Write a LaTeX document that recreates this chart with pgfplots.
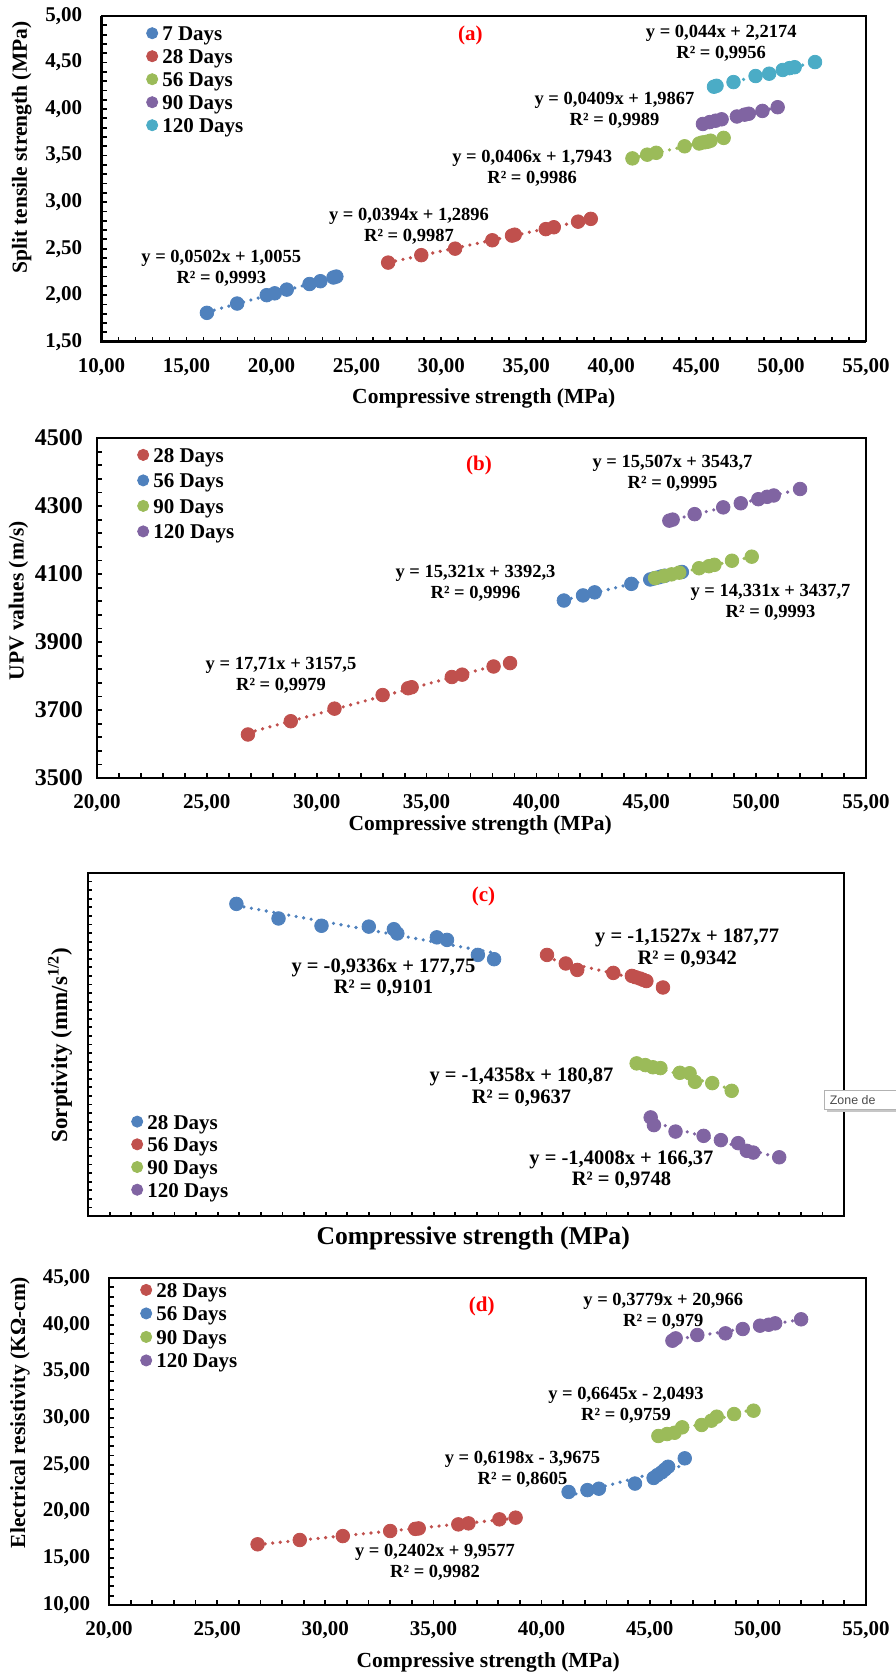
\documentclass[border=0pt]{standalone}
\usepackage{fontspec}
\setmainfont{Liberation Serif}
\newfontfamily\tipfont{Liberation Sans}
\usepackage{pgfplots}
\usepackage{pgfplotstable}
\pgfplotsset{compat=1.18}
\definecolor{cblue}{HTML}{4F81BD}
\definecolor{cred}{HTML}{C0504D}
\definecolor{cgreen}{HTML}{9BBB59}
\definecolor{cpurple}{HTML}{8064A2}
\definecolor{ccyan}{HTML}{4BACC6}

% ---------- data: panel (a) ----------
\pgfplotstableread{
x y
16.20 1.81
17.98 1.91
19.72 2.00
20.19 2.02
20.90 2.06
22.24 2.12
22.88 2.15
23.65 2.19
23.82 2.20
}\aA
\pgfplotstableread{
x y
26.87 2.35
28.82 2.43
30.81 2.50
33.00 2.59
34.16 2.64
34.32 2.65
36.15 2.71
36.62 2.73
38.05 2.79
38.80 2.82
}\aB
\pgfplotstableread{
x y
41.25 3.47
42.12 3.51
42.65 3.53
44.32 3.60
45.18 3.63
45.35 3.64
45.55 3.645
45.70 3.65
45.85 3.66
46.62 3.69
}\aC
\pgfplotstableread{
x y
45.40 3.84
45.80 3.86
46.15 3.875
46.50 3.89
47.40 3.92
47.85 3.94
48.10 3.95
48.90 3.98
49.80 4.02
}\aD
\pgfplotstableread{
x y
46.05 4.24
46.20 4.25
47.20 4.29
48.50 4.355
49.30 4.38
50.10 4.42
50.50 4.44
50.80 4.45
52.00 4.505
}\aE
% ---------- data: panel (b) ----------
\pgfplotstableread{
x y
26.87 3628
28.82 3667
30.81 3704
33.00 3744
34.16 3764
34.32 3767
36.15 3797
36.62 3804
38.05 3828
38.80 3838
}\bA
\pgfplotstableread{
x y
41.25 4022
42.12 4037
42.65 4046
44.32 4071
45.18 4084
45.35 4087
45.55 4090
45.70 4093
45.85 4095
46.62 4106
}\bB
\pgfplotstableread{
x y
45.40 4088
45.80 4094
46.15 4099
46.50 4104
47.40 4117
47.85 4123
48.10 4127
48.90 4139
49.80 4151
}\bC
\pgfplotstableread{
x y
46.05 4257
46.20 4260
47.20 4276
48.50 4296
49.30 4308
50.10 4320
50.50 4327
50.80 4331
52.00 4350
}\bD
% ---------- data: panel (c) ----------
\pgfplotstableread{
x y
26.87 152.8
28.82 149.4
30.81 147.7
33.00 147.5
34.16 146.9
34.32 145.9
36.15 145.0
36.62 144.4
38.05 140.9
38.80 139.9
}\cA
\pgfplotstableread{
x y
41.25 140.9
42.12 138.9
42.65 137.4
44.32 136.7
45.18 136.0
45.35 135.7
45.55 135.4
45.70 135.1
45.85 134.8
46.62 133.3
}\cB
\pgfplotstableread{
x y
45.40 115.6
45.80 115.2
46.15 114.7
46.50 114.5
47.40 113.4
47.85 113.3
48.10 111.3
48.90 111.0
49.80 109.2
}\cC
\pgfplotstableread{
x y
46.05 103.0
46.20 101.2
47.20 99.7
48.50 98.7
49.30 97.7
50.10 97.0
50.50 95.2
50.80 94.8
52.00 93.7
}\cD
% ---------- data: panel (d) ----------
\pgfplotstableread{
x y
26.87 16.50
28.82 16.96
30.81 17.38
33.00 17.92
34.16 18.15
34.32 18.20
36.15 18.63
36.62 18.74
38.05 19.17
38.80 19.35
}\dA
\pgfplotstableread{
x y
41.25 22.10
42.12 22.30
42.65 22.45
44.32 23.00
45.18 23.60
45.35 23.90
45.55 24.20
45.70 24.50
45.85 24.80
46.62 25.70
}\dB
\pgfplotstableread{
x y
45.40 28.09
45.80 28.30
46.15 28.44
46.50 29.02
47.40 29.27
47.85 29.73
48.10 30.16
48.90 30.44
49.80 30.80
}\dC
\pgfplotstableread{
x y
46.05 38.29
46.20 38.54
47.20 38.90
48.50 39.08
49.30 39.54
50.10 39.90
50.50 40.00
50.80 40.15
52.00 40.58
}\dD

\pgfplotsset{
  /pgf/number format/assume math mode=true,
  common/.style={
    scale only axis, clip=false, tick pos=left, tick align=inside,
    major tick length=2.5pt, minor tick length=2.5pt,
    tick style={black, line width=0.9pt},
    axis line style={line width=0.6pt},
    ticklabel style={font=\fontsize{10.5}{12}\selectfont\bfseries, inner sep=0pt},
    xticklabel style={anchor=center, yshift=-12.5pt},
    label style={font=\fontsize{10.75}{12}\selectfont\bfseries},
    legend cell align=left,
    legend image code/.code={\draw[##1, mark size=2.8pt] plot[only marks] coordinates {(0pt,1.4pt)};},
    legend style={draw=none, fill=none, inner sep=0pt,
      font=\fontsize{10.5}{12}\selectfont\bfseries, column sep=2.25pt,
      nodes={inner sep=0pt, text height=7pt, text depth=2.3pt},
      at={(axis description cs:0,1)}, anchor=north west},
  },
  commafmt/.style={
    xticklabel={\pgfmathprintnumber[fixed,fixed zerofill,precision=2,use comma]{\tick}},
    yticklabel={\pgfmathprintnumber[fixed,fixed zerofill,precision=2,use comma]{\tick}},
  },
  ser/.style={only marks, mark=*, mark size=3.4pt, color=#1, mark options={fill=#1, draw=#1}},
  tl/.style={color=#1, line width=1.8pt, dash pattern=on 0pt off 3.8pt, line cap=round, forget plot, no marks},
}

\newcommand\eqfont{\fontsize{9.25}{10.5}\selectfont\bfseries}
\newcommand\eqfontc{\fontsize{10.25}{10.7}\selectfont\bfseries}
\newcommand\tagfont{\fontsize{10.5}{12}\selectfont\bfseries\color{red}}

\begin{document}
\begin{tikzpicture}
\useasboundingbox (0,0) rectangle (447.5pt,-837.5pt);

% ================= (a) =================
\begin{axis}[common, commafmt,
  at={(50.8pt,-170.85pt)}, anchor=south west, width=382.2pt, height=162.85pt,
  xmin=10, xmax=55, ymin=1.5, ymax=5,
  xtick={10,15,...,55}, minor x tick num=4,
  ytick={1.5,2,2.5,3,3.5,4,4.5,5}, minor y tick num=4,
  yticklabel style={anchor=east, xshift=-9.5pt},
  xlabel={Compressive strength (MPa)},
  xlabel style={at={(axis description cs:0.5,-0.1738)}, anchor=center},
  ylabel={Split tensile strength (MPa)},
  ylabel style={at={(axis description cs:-0.1045,0.596)}, anchor=center},
  legend style={xshift=22.3pt, yshift=-5.15pt, row sep=2.2pt},
]
\addplot[ser=cblue] table {\aA}; \addlegendentry{7 Days}
\addplot[ser=cred] table {\aB}; \addlegendentry{28 Days}
\addplot[ser=cgreen] table {\aC}; \addlegendentry{56 Days}
\addplot[ser=cpurple] table {\aD}; \addlegendentry{90 Days}
\addplot[ser=ccyan] table {\aE}; \addlegendentry{120 Days}
\addplot[tl=cblue] table[y={create col/linear regression={y=y}}] {\aA};
\addplot[tl=cred] table[y={create col/linear regression={y=y}}] {\aB};
\addplot[tl=cgreen] table[y={create col/linear regression={y=y}}] {\aC};
\addplot[tl=cpurple] table[y={create col/linear regression={y=y}}] {\aD};
\addplot[tl=ccyan] table[y={create col/linear regression={y=y}}] {\aE};
\draw[line width=1.35pt] (rel axis cs:0,1) -- (rel axis cs:0,0) -- (rel axis cs:1,0);
\end{axis}

% ================= (b) =================
\begin{axis}[common,
  at={(48.5pt,-389pt)}, anchor=south west, width=384.5pt, height=170pt,
  xmin=20, xmax=55, ymin=3500, ymax=4500,
  xtick={20,25,...,55}, minor x tick num=4,
  ytick={3500,3700,...,4500}, minor y tick num=4,
  xticklabel={\pgfmathprintnumber[fixed,fixed zerofill,precision=2,use comma]{\tick}},
  yticklabel={\pgfmathprintnumber[fixed,precision=0,1000 sep={}]{\tick}},
  yticklabel style={anchor=east, xshift=-6.85pt, font=\fontsize{12}{13}\selectfont\bfseries},
  xlabel={Compressive strength (MPa)},
  xlabel style={at={(axis description cs:0.4984,-0.1382)}, anchor=center},
  ylabel={UPV values (m/s)},
  ylabel style={at={(axis description cs:-0.1023,0.521)}, anchor=center},
  legend style={xshift=20.1pt, yshift=-5pt, row sep=3.45pt},
]
\addplot[ser=cred] table {\bA}; \addlegendentry{28 Days}
\addplot[ser=cblue] table {\bB}; \addlegendentry{56 Days}
\addplot[ser=cgreen] table {\bC}; \addlegendentry{90 Days}
\addplot[ser=cpurple] table {\bD}; \addlegendentry{120 Days}
\addplot[tl=cred] table[y={create col/linear regression={y=y}}] {\bA};
\addplot[tl=cblue] table[y={create col/linear regression={y=y}}] {\bB};
\addplot[tl=cgreen] table[y={create col/linear regression={y=y}}] {\bC};
\addplot[tl=cpurple] table[y={create col/linear regression={y=y}}] {\bD};
\draw[line width=1.35pt] (rel axis cs:0,1) -- (rel axis cs:0,0) -- (rel axis cs:1,0);
\end{axis}

% ================= (c) =================
\begin{axis}[common,
  at={(44pt,-608pt)}, anchor=south west, width=378pt, height=171.5pt,
  xmin=20, xmax=55, ymin=80, ymax=160,
  xtick={20,21,...,55}, ytick={80,82,...,160},
  xticklabels={}, yticklabels={},
  major tick length=2.2pt,
  xlabel={Compressive strength (MPa)},
  xlabel style={at={(axis description cs:0.5095,-0.0656)}, anchor=center, font=\fontsize{12.8}{14}\selectfont\bfseries},
  ylabel={Sorptivity (mm/s\textsuperscript{1/2})},
  ylabel style={at={(axis description cs:-0.037,0.4985)}, anchor=center, font=\fontsize{11.5}{13}\selectfont\bfseries},
  legend style={xshift=21.6pt, yshift=-120.85pt, row sep=2.05pt},
]
\addplot[ser=cblue] table {\cA}; \addlegendentry{28 Days}
\addplot[ser=cred] table {\cB}; \addlegendentry{56 Days}
\addplot[ser=cgreen] table {\cC}; \addlegendentry{90 Days}
\addplot[ser=cpurple] table {\cD}; \addlegendentry{120 Days}
\addplot[tl=cblue] table[y={create col/linear regression={y=y}}] {\cA};
\addplot[tl=cred] table[y={create col/linear regression={y=y}}] {\cB};
\addplot[tl=cgreen] table[y={create col/linear regression={y=y}}] {\cC};
\addplot[tl=cpurple] table[y={create col/linear regression={y=y}}] {\cD};
\draw[line width=1.2pt] (rel axis cs:0,0) rectangle (rel axis cs:1,1);
\end{axis}

% ================= (d) =================
\begin{axis}[common, commafmt,
  at={(54.5pt,-802.5pt)}, anchor=south west, width=378.5pt, height=163.5pt,
  xmin=20, xmax=55, ymin=10, ymax=45,
  xtick={20,25,...,55}, minor x tick num=4,
  ytick={10,15,...,45}, minor y tick num=4,
  yticklabel style={anchor=east, xshift=-9.2pt},
  xticklabel style={yshift=-0.3pt},
  xlabel={Compressive strength (MPa)},
  xlabel style={at={(axis description cs:0.501,-0.1752)}, anchor=center},
  ylabel={Electrical resistivity (KΩ-cm)},
  ylabel style={at={(axis description cs:-0.1176,0.5887)}, anchor=center},
  legend style={xshift=15.6pt, yshift=-2.5pt, row sep=2.45pt},
]
\addplot[ser=cred] table {\dA}; \addlegendentry{28 Days}
\addplot[ser=cblue] table {\dB}; \addlegendentry{56 Days}
\addplot[ser=cgreen] table {\dC}; \addlegendentry{90 Days}
\addplot[ser=cpurple] table {\dD}; \addlegendentry{120 Days}
\addplot[tl=cred] table[y={create col/linear regression={y=y}}] {\dA};
\addplot[tl=cblue] table[y={create col/linear regression={y=y}}] {\dB};
\addplot[tl=cgreen] table[y={create col/linear regression={y=y}}] {\dC};
\addplot[tl=cpurple] table[y={create col/linear regression={y=y}}] {\dD};
\draw[line width=1.35pt] (rel axis cs:0,1) -- (rel axis cs:0,0) -- (rel axis cs:1,0);
\end{axis}

% ================= annotations (pixel coordinates) =================
\begin{scope}[x=0.5pt, y=-0.5pt]
\tikzset{eq/.style={align=center, inner sep=0pt, font=\eqfont}}
\tikzset{eqc/.style={align=center, inner sep=0pt, font=\eqfontc}}
% (a)
\node[font=\tagfont] at (470.4,35) {(a)};
\node[eq] at (221.3,267.8) {y = 0,0502x + 1,0055\\R² = 0,9993};
\node[eq] at (409,226.5) {y = 0,0394x + 1,2896\\R² = 0,9987};
\node[eq] at (532.2,168.2) {y = 0,0406x + 1,7943\\R² = 0,9986};
\node[eq] at (614.5,109.8) {y = 0,0409x + 1,9867\\R² = 0,9989};
\node[eq] at (721.2,42.8) {y = 0,044x + 2,2174\\R² = 0,9956};
% (b)
\node[font=\tagfont] at (479,465) {(b)};
\node[eq] at (672.5,472.8) {y = 15,507x + 3543,7\\R² = 0,9995};
\node[eq] at (475.5,583.7) {y = 15,321x + 3392,3\\R² = 0,9996};
\node[eq] at (770.5,602.7) {y = 14,331x + 3437,7\\R² = 0,9993};
\node[eq] at (281,675.3) {y = 17,71x + 3157,5\\R² = 0,9979};
% (c)
\node[font=\tagfont] at (483.5,896.7) {(c)};
\node[eqc] at (383.5,978) {y = -0,9336x + 177,75\\R² = 0,9101};
\node[eqc] at (687.2,948.2) {y = -1,1527x + 187,77\\R² = 0,9342};
\node[eqc] at (521.5,1087.2) {y = -1,4358x + 180,87\\R² = 0,9637};
\node[eqc] at (621.4,1169.7) {y = -1,4008x + 166,37\\R² = 0,9748};
\fill[gray!45] (827,1093) rectangle (900,1112);
\draw[gray!60, fill=white] (824,1090) rectangle (900,1109.5);
\node[anchor=west, inner sep=0pt, font=\tipfont\fontsize{6.2}{7}\selectfont, text=gray!60!black] at (829.5,1099.7) {Zone de};
% (d)
\node[font=\tagfont] at (481.8,1306.7) {(d)};
\node[eq] at (663.3,1311.7) {y = 0,3779x + 20,966\\R² = 0,979};
\node[eq] at (626,1405.5) {y = 0,6645x - 2,0493\\R² = 0,9759};
\node[eq] at (522.5,1469.5) {y = 0,6198x - 3,9675\\R² = 0,8605};
\node[eq] at (435,1562.2) {y = 0,2402x + 9,9577\\R² = 0,9982};
\end{scope}
\end{tikzpicture}
\end{document}
